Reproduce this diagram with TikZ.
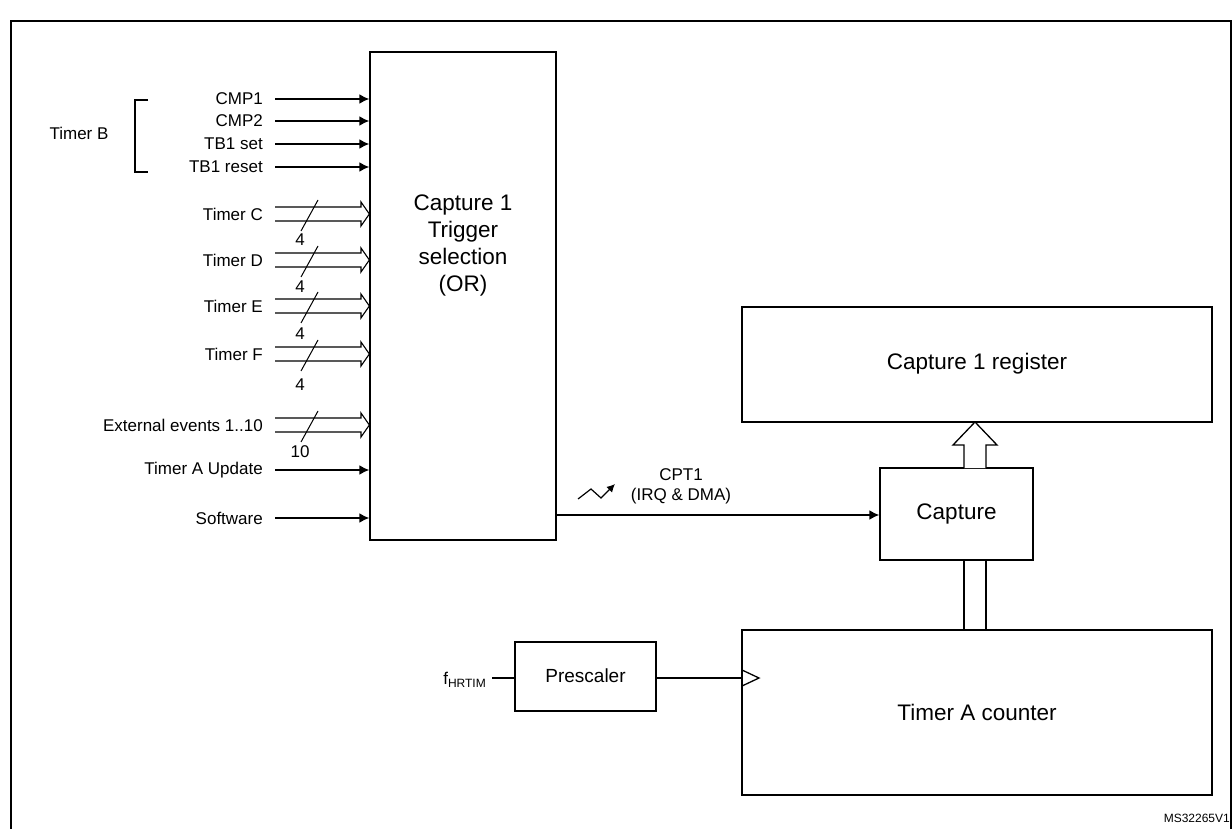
\documentclass[tikz,border=0pt]{standalone}
\usepackage{fontspec}
\setmainfont{Liberation Sans}
\usetikzlibrary{arrows.meta}
\begin{document}
\begin{tikzpicture}[x=1pt,y=-1pt,
  box/.style={draw,line width=1.3pt,inner sep=0},
  lab/.style={font=\fontsize{17}{20}\selectfont,inner sep=0},
  big/.style={font=\fontsize{22.5}{27}\selectfont,align=center,inner sep=0},
  sig/.style={line width=1.8pt,-{Latex[length=10pt,width=10pt]}}]
\useasboundingbox (0,0) rectangle (1232,829);
\draw[line width=1.8pt] (11,829) -- (11,21) -- (1231,21) -- (1231,829);
\node[box,minimum width=186,minimum height=488] (trig) at (463,296) {};
\node[big] at (463,245) {Capture 1\\Trigger\\selection\\(OR)};
\node[box,minimum width=470,minimum height=115] (reg) at (977,364.5) {};
\node[big] at (977,364) {Capture 1 register};
\node[box,minimum width=153,minimum height=92] (cap) at (956.5,514) {};
\node[big] at (956.5,514) {Capture};
\node[box,minimum width=470,minimum height=165] (cnt) at (977,712.5) {};
\node[big] at (977,712) {Timer A counter};
\node[box,minimum width=141,minimum height=69] (pre) at (585.5,676.5) {};
\node[lab,font=\fontsize{19}{22}\selectfont] at (585.5,676) {Prescaler};
\foreach \y/\t/\n in {99/CMP1/a,121/CMP2/b,144/TB1 set/c,167/TB1 reset/d,470/Timer A Update/e,518/Software/f}{
  \node[lab,anchor=east] (in\n) at (263,\y) {\t};
  \coordinate (s\n) at (275,\y);
  \draw[sig] (s\n) -- (trig.west |- s\n);
}
\node[lab] (tb) at (79,133) {Timer B};
\draw[line width=1.3pt] (148,100) -- (135,100) -- (135,172) -- (148,172);
\foreach \y/\t/\n/\k in {214/Timer C/C/4,260/Timer D/D/4,306/Timer E/E/4,354/Timer F/F/4,425/External events 1..10/X/10}{
  \node[lab,anchor=east] (b\n) at (263,\y) {\t};
  \draw[line width=1.1pt,line join=miter] (275,\y-7) -- (361,\y-7) -- (361,\y-12) -- (trig.west |- 0,\y) -- (361,\y+12) -- (361,\y+7) -- (275,\y+7);
  \draw[line width=1pt] (301,\y+17) -- (318,\y-14);
}
\foreach \y/\k in {240/4,287/4,334/4,385/4,452/10}{\node[lab] at (300,\y) {\k};}
\draw[sig] (trig.east |- 0,515) -- (cap.west |- 0,515);
\node[lab,align=center] at (681,486) {CPT1\\(IRQ \& DMA)};
\draw[line width=1.2pt,-{Latex[length=8pt,width=8pt]}] (578,499) -- (591,489) -- (601,498) -- (615,484);
\draw[line width=1.3pt,fill=white] (964,468) -- (964,445) -- (953,445) -- (975,422) -- (997,445) -- (986,445) -- (986,468);
\draw[line width=1.3pt] (964,630) -- (964,560) (986,630) -- (986,560);
\node[lab,anchor=east] (f) at (486,680) {f\raisebox{-0.3ex}{\fontsize{12}{13}\selectfont HRTIM}};
\draw[line width=1.3pt] (492,678) -- (pre.west |- 0,678);
\draw[line width=1.6pt] (pre.east |- 0,678) -- (742,678);
\draw[line width=1.3pt] (742,670) -- (759,678) -- (742,686);
\node[font=\fontsize{12}{14}\selectfont,anchor=east,inner sep=0] at (1230,818) {MS32265V1};
\end{tikzpicture}
\end{document}
